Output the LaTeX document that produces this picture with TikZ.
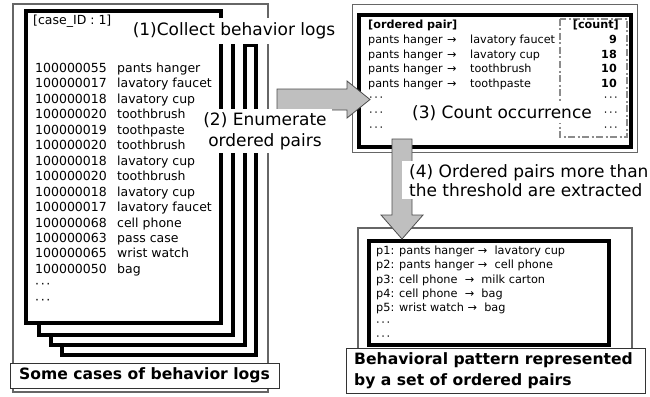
\documentclass[tikz,border=0pt]{standalone}
\usepackage{fontspec}
\setmainfont{DejaVu Sans}
\newcommand\mdots{·\kern1.6pt·\kern1.6pt·}
\newcommand\tto{\ →\ \ }
\begin{document}
\begin{tikzpicture}[x=1pt,y=-1pt,
  frame/.style={draw=black!60, line width=1.6pt},
  sheet/.style={draw=black, line width=4pt, fill=white},
  thickbox/.style={draw=black, line width=4pt, fill=white},
  blockarrow/.style={fill=black!25, draw=black!70, line width=0.8pt},
  steplabel/.style={fill=white, font=\fontsize{17}{21}\selectfont, inner sep=3pt},
  capbox/.style={draw=black!80, line width=1pt, fill=white},
  captext/.style={font=\bfseries\fontsize{15.6}{21}\selectfont, inner sep=0pt},
  logtext/.style={font=\fontsize{12.5}{15}\selectfont, inner sep=0pt, anchor=base west},
  pairtext/.style={font=\fontsize{11.2}{14}\selectfont, inner sep=0pt, anchor=base west},
  cnttext/.style={font=\bfseries\fontsize{11.2}{14}\selectfont, inner sep=0pt, anchor=base east},
  pattext/.style={font=\fontsize{11.3}{14}\selectfont, inner sep=0pt, anchor=base west},
]
\useasboundingbox (0,0) rectangle (650,396);

% ---------- left: behavior logs ----------
\draw[frame] (13,4) rectangle (268,392);
\draw[sheet] (62,45) rectangle (256,355);
\draw[sheet] (51,34) rectangle (245,345);
\draw[sheet] (39,23) rectangle (233,335);
\draw[sheet] (26,11) rectangle (221,323);

\node[logtext] (caseid) at (33,24.5) {[case\_ID : 1]};
\foreach \id/\nm [count=\i] in {100000055/pants hanger, 100000017/lavatory faucet,
  100000018/lavatory cup, 100000020/toothbrush, 100000019/toothpaste,
  100000020/toothbrush, 100000018/lavatory cup, 100000020/toothbrush,
  100000018/lavatory cup, 100000017/lavatory faucet, 100000068/cell phone,
  100000063/pass case, 100000065/wrist watch, 100000050/bag}
  \node[logtext] (log\i) at (35,72.5+15.45*\i-15.45) {\makebox[82pt][l]{\id}\nm};
\node[logtext] (logdotsa) at (35,288.8) {\mdots};
\node[logtext] (logdotsb) at (35,304.2) {\mdots};

\node[steplabel, inner xsep=5pt, inner ysep=5pt] (lab1) at (234,31) {(1)Collect behavior logs};

\draw[capbox] (10,363) rectangle (279,388);
\node[captext] (cap1) at (144.5,375.5) {Some cases of behavior logs};

% ---------- top right: ordered pairs ----------
\draw[frame] (352.5,4.5) rectangle (637.5,152.5);
\draw[thickbox] (359,15) rectangle (631,147);
\draw[black!45, line width=1.8pt, dash pattern=on 7pt off 2.5pt on 2pt off 2.5pt] (560,19) rectangle (627,137);

\node[pairtext, font=\bfseries\fontsize{11.2}{14}\selectfont] (ophead) at (368,29) {[ordered pair]};
\node[cnttext] (cnthead) at (619,29) {[count]};
\foreach \b/\c [count=\i] in {lavatory faucet/9, lavatory cup/18, toothbrush/10, toothpaste/10}{
  \node[pairtext] (pair\i) at (368,43.5+14.6*\i-14.6) {\makebox[79pt][l]{pants hanger}\makebox[23pt][l]{→}\b};
  \node[cnttext] (cnt\i) at (617,43.5+14.6*\i-14.6) {\c};
}
\foreach \yy [count=\i] in {101.9,116.5,131.1}{
  \node[pairtext] (pdl\i) at (369,\yy) {\mdots};
  \node[pairtext, anchor=base east] (pdr\i) at (618,\yy) {\mdots};
}
\node[steplabel, inner sep=2pt] (lab3) at (502,113) {(3) Count occurrence};

% ---------- arrow (2) ----------
\draw[blockarrow] (277,89) -- (347,89) -- (347,81) -- (370,99.5) -- (347,118) -- (347,110) -- (277,110) -- cycle;
\node[steplabel, align=center, inner xsep=5pt] (lab2) at (265,131) {(2) Enumerate\\ordered pairs};

% ---------- bottom right: behavioral pattern ----------
\draw[frame] (358,228) rectangle (632,356);
\draw[thickbox] (369,241) rectangle (609,345);
\node[pattext] (pat1) at (376,254.5) {p1: pants hanger\tto lavatory cup};
\node[pattext] (pat2) at (376,268.8) {p2: pants hanger\tto cell phone};
\node[pattext] (pat3) at (376,283.1) {p3: cell phone\ \tto milk carton};
\node[pattext] (pat4) at (376,297.4) {p4: cell phone\ \tto bag};
\node[pattext] (pat5) at (376,311.7) {p5: wrist watch\tto bag};
\node[pattext] (patdotsa) at (376,326) {\mdots};
\node[pattext] (patdotsb) at (376,340.3) {\mdots};

\draw[capbox] (346,348) rectangle (645,393);
\node[captext, anchor=west, align=left] (cap2) at (354,370.5) {Behavioral pattern represented\\by a set of ordered pairs};

% ---------- arrow (4) ----------
\draw[blockarrow] (392,139) -- (412,139) -- (412,215) -- (423,215) -- (402,239) -- (381,215) -- (392,215) -- cycle;
\node[steplabel, anchor=north west, align=left, inner xsep=7pt, inner ysep=3pt, font=\fontsize{17}{19}\selectfont] (lab4) at (402,161) {(4) Ordered pairs more than\\the threshold are extracted};
\end{tikzpicture}
\end{document}
